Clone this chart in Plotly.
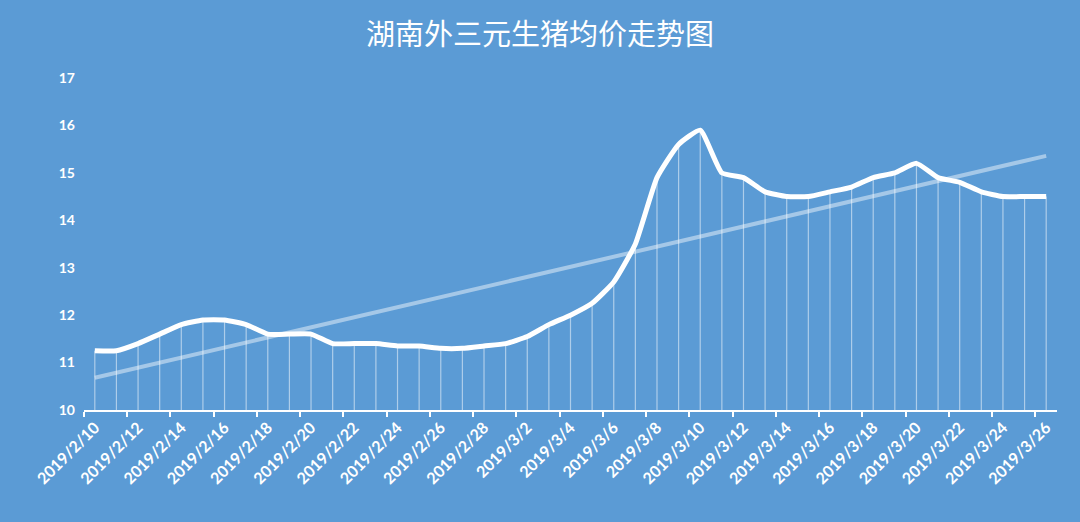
import numpy as np
import plotly.graph_objects as go

dates = [
    "2019/2/10", "2019/2/11", "2019/2/12", "2019/2/13", "2019/2/14", "2019/2/15",
    "2019/2/16", "2019/2/17", "2019/2/18", "2019/2/19", "2019/2/20", "2019/2/21",
    "2019/2/22", "2019/2/23", "2019/2/24", "2019/2/25", "2019/2/26", "2019/2/27",
    "2019/2/28", "2019/3/1", "2019/3/2", "2019/3/3", "2019/3/4", "2019/3/5",
    "2019/3/6", "2019/3/7", "2019/3/8", "2019/3/9", "2019/3/10", "2019/3/11",
    "2019/3/12", "2019/3/13", "2019/3/14", "2019/3/15", "2019/3/16", "2019/3/17",
    "2019/3/18", "2019/3/19", "2019/3/20", "2019/3/21", "2019/3/22", "2019/3/23",
    "2019/3/24", "2019/3/25", "2019/3/26",
]
price = [
    11.25, 11.25, 11.4, 11.6, 11.8, 11.9, 11.9, 11.8, 11.6, 11.6, 11.6, 11.4,
    11.4, 11.4, 11.35, 11.35, 11.3, 11.3, 11.35, 11.4, 11.55, 11.8, 12.0, 12.25,
    12.7, 13.5, 14.9, 15.6, 15.9, 15.0, 14.9, 14.6, 14.5, 14.5, 14.6, 14.7,
    14.9, 15.0, 15.2, 14.9, 14.8, 14.6, 14.5, 14.5, 14.5,
]
y_min, y_max = 10, 17

bg = "#5B9BD5"
x_font = dict(family="Lato", size=16, color="white", weight="bold")
y_font = dict(family="Lato", size=14, color="white", weight="bold")

# linear trendline over the category index (like Excel's)
idx = np.arange(len(price))
slope, intercept = np.polyfit(idx, price, 1)
trend = slope * idx + intercept

fig = go.Figure()

# drop lines from each point down to the axis
fig.add_trace(go.Scatter(
    x=dates, y=price, mode="markers",
    marker=dict(size=0.1, color="rgba(0,0,0,0)"),
    error_y=dict(type="data", symmetric=False, array=[0] * len(price),
                 arrayminus=[p - y_min for p in price],
                 width=0, thickness=1.2, color="rgba(255,255,255,0.5)"),
    hoverinfo="skip", showlegend=False,
))

fig.add_trace(go.Scatter(
    x=dates, y=trend, mode="lines",
    line=dict(color="rgba(255,255,255,0.45)", width=4),
    showlegend=False,
))

fig.add_trace(go.Scatter(
    x=dates, y=price, mode="lines",
    line=dict(color="white", width=5, shape="spline", smoothing=0.45),
    showlegend=False,
))

fig.update_layout(
    width=1080, height=522,
    paper_bgcolor=bg, plot_bgcolor=bg,
    margin=dict(l=84, r=23, t=78, b=112),
    title=dict(text="湖南外三元生猪均价走势图", x=0.5, xanchor="center",
               y=0.933, yanchor="middle",
               font=dict(family="Noto Sans CJK SC", size=29, color="white")),
)
fig.update_xaxes(
    type="category", range=[-0.5, len(dates) - 0.5], automargin=False,
    tickmode="linear", dtick=2, tickangle=-45,
    tickson="boundaries", ticks="outside", ticklen=5, tickwidth=2, tickcolor="white",
    showline=True, linecolor="white", linewidth=2,
    showgrid=False, zeroline=False, tickfont=x_font,
)
fig.update_yaxes(
    range=[y_min, y_max], dtick=1, showgrid=False, zeroline=False, automargin=False,
    showline=False, ticks="", tickfont=y_font, ticklabelstandoff=8,
)

# drop the default page margin so the figure sits at the window corner
fig.write_html("out.html", config={"displayModeBar": False},
               post_script="document.body.style.margin='0';")
